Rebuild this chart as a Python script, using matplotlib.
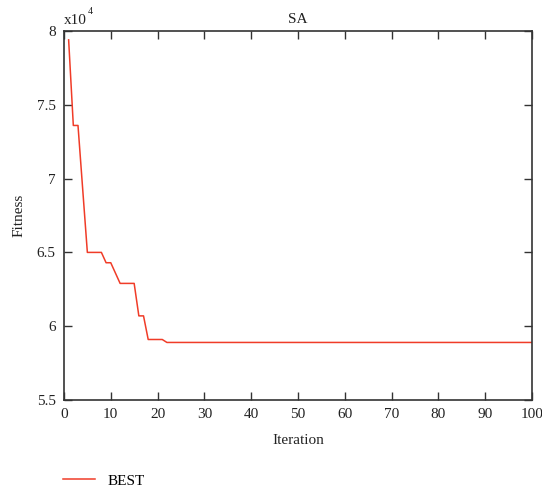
import numpy as np
import matplotlib.pyplot as plt

plt.rcParams['font.family'] = ['Liberation Serif', 'DejaVu Serif']

# best fitness per iteration (x1e4)
iters = np.arange(1, 101)
best = [7.94, 7.36, 7.36, 6.93, 6.50, 6.50, 6.50, 6.50, 6.43, 6.43,
        6.36, 6.29, 6.29, 6.29, 6.29, 6.07, 6.07, 5.91, 5.91, 5.91,
        5.91] + [5.89] * 79

xticks = np.arange(0, 101, 10)
yticks = [5.5, 6, 6.5, 7, 7.5, 8]
ylabels = ['5.5', '6', '6.5', '7', '7.5', '8']

axc = '#333333'
fig = plt.figure(figsize=(5.42, 4.88), dpi=100)
ax = fig.add_axes([0.118, 0.1803, 0.8635, 0.7562])

ax.plot(iters, best, color='#f03c28', lw=1.1, label='BEST')

ax.set_xlim(0, 100)
ax.set_ylim(5.5, 8)
ax.set_xticks(xticks)
ax.set_yticks(yticks)
ax.set_yticklabels(ylabels)
ax.tick_params(direction='in', top=True, right=True, length=6, width=1,
               colors=axc, labelcolor='#222222', labelsize=11, pad=6)
for s in ax.spines.values():
    s.set_color(axc)
    s.set_linewidth(1.2)

ax.set_xlabel('Iteration', fontsize=11, color='#222222', labelpad=9)
ax.set_ylabel('Fitness', fontsize=11, color='#222222', labelpad=8)
ax.set_title('SA', fontsize=11, color='#222222', pad=6)
ax.text(0.0, 1.012, 'x10', transform=ax.transAxes, fontsize=11,
        color='#222222', va='bottom', ha='left')
ax.text(0.05, 1.04, '4', transform=ax.transAxes, fontsize=7,
        color='#222222', va='bottom', ha='left')

ax.legend(loc='upper left', bbox_to_anchor=(-0.002, -0.2), frameon=False,
          fontsize=11, handlelength=2.1, handletextpad=0.8, borderaxespad=0,
          borderpad=0)

fig.savefig('out.png', dpi=100)
